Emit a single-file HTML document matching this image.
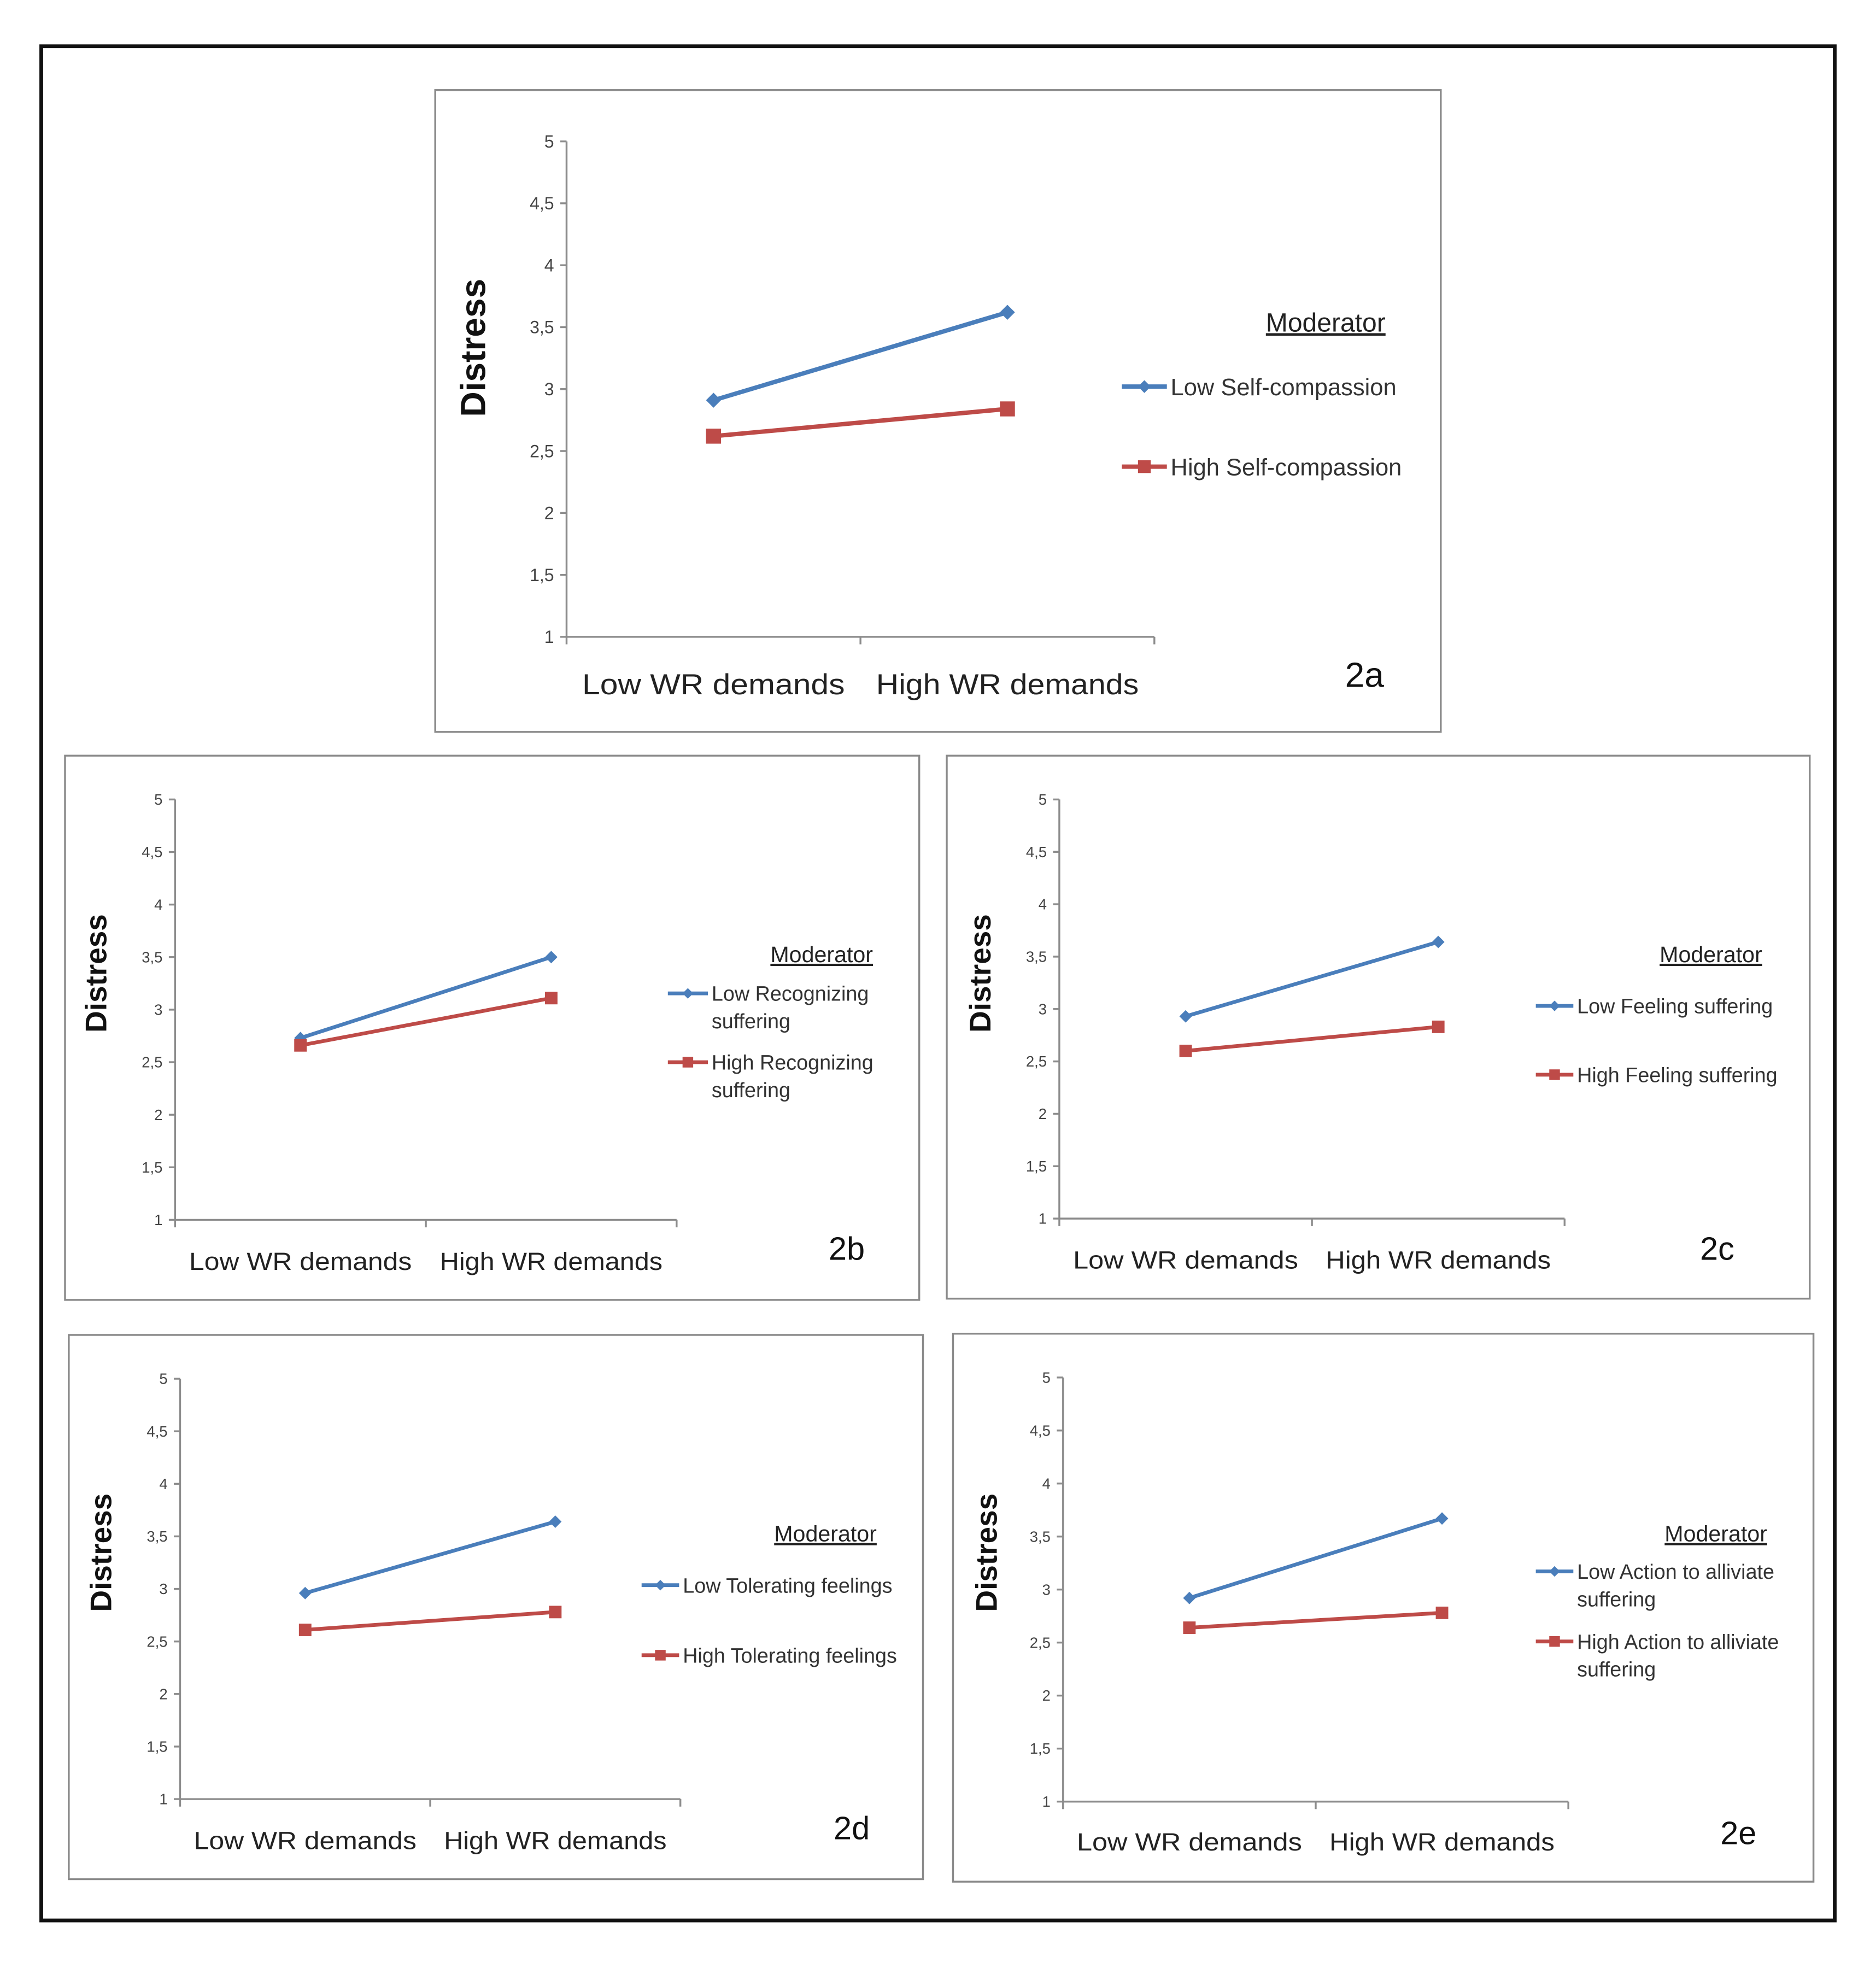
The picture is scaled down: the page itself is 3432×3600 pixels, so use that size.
<!DOCTYPE html>
<html><head><meta charset="utf-8"><style>
html,body{margin:0;padding:0;background:#fff}
svg{display:block}
text{font-family:"Liberation Sans",sans-serif}
</style></head><body>
<svg id="fig" width="3432" height="3600" viewBox="0 0 1500 1573" preserveAspectRatio="none" xmlns="http://www.w3.org/2000/svg">
<rect x="33" y="37" width="1434" height="1498" fill="#fff" stroke="#111" stroke-width="3"/>
</svg>
<script>
const categories = ["Low WR demands", "High WR demands"];
const yTicks = [1, 1.5, 2, 2.5, 3, 3.5, 4, 4.5, 5];
const yTickLabels = ["1","1,5","2","2,5","3","3,5","4","4,5","5"];
const lowA = [2.91, 3.62];
const highA = [2.62, 2.84];
const lowB = [2.73, 3.5];
const highB = [2.66, 3.11];
const lowC = [2.93, 3.64];
const highC = [2.6, 2.83];
const lowD = [2.96, 3.64];
const highD = [2.61, 2.78];
const lowE = [2.92, 3.67];
const highE = [2.64, 2.78];
const legendA = [["Low Self-compassion"], ["High Self-compassion"]];
const legendB = [["Low Recognizing", "suffering"], ["High Recognizing", "suffering"]];
const legendC = [["Low Feeling suffering"], ["High Feeling suffering"]];
const legendD = [["Low Tolerating feelings"], ["High Tolerating feelings"]];
const legendE = [["Low Action to alliviate", "suffering"], ["High Action to alliviate", "suffering"]];

const NS = "http://www.w3.org/2000/svg";
const svg = document.getElementById("fig");
function mk(tag, attrs, parent, txt) {
  const e = document.createElementNS(NS, tag);
  for (const k in attrs) e.setAttribute(k, attrs[k]);
  if (txt !== undefined) e.textContent = txt;
  (parent || svg).appendChild(e);
  return e;
}
const BLUE = "#4a7ebb", RED = "#be4b48";

function panel(p) {
  const g = mk("g", {});
  
  
  const box = mk("rect", {x: p.box[0], y: p.box[1], width: p.box[2] - p.box[0], height: p.box[3] - p.box[1], fill: "#fff", stroke: "#8a8a8a", "stroke-width": 1.5}, g);
  
  
  const yS = v => p.y1 + (v - 1) * (p.y5 - p.y1) / 4;
  const xS = i => p.x0 + (p.x1 - p.x0) * (2 * i + 1) / (2 * categories.length);
  const ya = mk("line", {x1: p.x0, x2: p.x0, y1: p.y1, y2: p.y5, stroke: "#8c8c8c", "stroke-width": 1.5}, g);
  
  
  const xa = mk("line", {x1: p.x0, x2: p.x1, y1: p.y1, y2: p.y1, stroke: "#8c8c8c", "stroke-width": 1.5}, g);
  
  
  for (let i = 0; i <= categories.length; i++) {
    const x = p.x0 + (p.x1 - p.x0) * i / categories.length;
    mk("line", {x1: x, x2: x, y1: p.y1, y2: p.y1 + 6, stroke: "#8c8c8c", "stroke-width": 1.5}, g);
  }
  yTicks.forEach((v, i) => {
    const y = yS(v);
    mk("line", {x1: p.x0 - 5, x2: p.x0, y1: y, y2: y, stroke: "#8c8c8c", "stroke-width": 1.5}, g);
    const t = mk("text", {x: p.x0 - 10, y: y + p.tf * 0.35, "font-size": p.tf, "text-anchor": "end", fill: "#444"}, g, yTickLabels[i]);
    
    
  });
  categories.forEach((c, i) => {
    const t = mk("text", {x: xS(i), y: p.catY, "font-size": p.cf, "text-anchor": "middle", fill: "#222", textLength: p.catW, lengthAdjust: "spacingAndGlyphs"}, g, c);
    
    
  });
  const yt = mk("text", {x: 0, y: 0, "font-size": p.df, "font-weight": "bold", "text-anchor": "middle", fill: "#111", transform: `translate(${p.dx},${p.dy}) rotate(-90)`}, g, "Distress");
  
  
  [[p.low, BLUE, "low"], [p.high, RED, "high"]].forEach(([vals, col, nm]) => {
    const pts = vals.map((v, i) => xS(i) + "," + yS(v)).join(" ");
    const l = mk("polyline", {points: pts, fill: "none", stroke: col, "stroke-width": p.lw}, g);
    
    
    vals.forEach((v, i) => {
      const x = xS(i), y = yS(v), s = p.ms;
      let m;
      if (nm === "low") m = mk("polygon", {points: `${x},${y - s} ${x + s},${y} ${x},${y + s} ${x - s},${y}`, fill: col}, g);
      else m = mk("rect", {x: x - s, y: y - s, width: 2 * s, height: 2 * s, fill: col}, g);
      
      
    });
  });
  const mt = mk("text", {x: p.modX, y: p.modY, "font-size": p.mf, "text-anchor": "middle", fill: "#222", "text-decoration": "underline"}, g, "Moderator");
  
  
  [[p.leg[0], BLUE, p.legY[0], "low"], [p.leg[1], RED, p.legY[1], "high"]].forEach(([lines, col, y, nm]) => {
    const lg = mk("g", {}, g);
    
    
    mk("line", {x1: p.legX[0], x2: p.legX[1], y1: y, y2: y, stroke: col, "stroke-width": p.lw}, lg);
    const cx = (p.legX[0] + p.legX[1]) / 2, s = p.ms * 0.85;
    if (nm === "low") mk("polygon", {points: `${cx},${y - s} ${cx + s},${y} ${cx},${y + s} ${cx - s},${y}`, fill: col}, lg);
    else mk("rect", {x: cx - s, y: y - s, width: 2 * s, height: 2 * s, fill: col}, lg);
    lines.forEach((t, k) => mk("text", {x: p.legX[1] + 3, y: y + p.lf * 0.36 + k * p.lineH, "font-size": p.lf, fill: "#333"}, lg, t));
  });
  const lab = mk("text", {x: p.labX, y: p.labY, "font-size": p.labF, "text-anchor": "middle", fill: "#111"}, g, p.id);
  
  
}

panel({id: "2a", box: [348, 72, 1152, 585], x0: 453, x1: 923, y1: 509, y5: 113, low: lowA, high: highA,
  tf: 14, cf: 23, catW: 210, catY: 555, df: 28, dx: 388, dy: 278, lw: 3.5, ms: 6,
  modX: 1060, modY: 265, mf: 21, leg: legendA, legY: [309, 373], legX: [897, 933], lf: 19, lineH: 22,
  labX: 1091, labY: 549, labF: 28});
panel({id: "2b", box: [52, 604, 735, 1039], x0: 140, x1: 541, y1: 975, y5: 639, low: lowB, high: highB,
  tf: 12, cf: 20, catW: 178, catY: 1015, df: 24, dx: 85, dy: 778, lw: 3, ms: 5,
  modX: 657, modY: 769, mf: 18, leg: legendB, legY: [794, 849], legX: [534, 566], lf: 16.5, lineH: 22,
  labX: 677, labY: 1007, labF: 26});
panel({id: "2c", box: [757, 604, 1447, 1038], x0: 847, x1: 1251, y1: 974, y5: 639, low: lowC, high: highC,
  tf: 12, cf: 20, catW: 180, catY: 1014, df: 24, dx: 792, dy: 778, lw: 3, ms: 5,
  modX: 1368, modY: 769, mf: 18, leg: legendC, legY: [804, 859], legX: [1228, 1258], lf: 16.5, lineH: 22,
  labX: 1373, labY: 1007, labF: 26});
panel({id: "2d", box: [55, 1067, 738, 1502], x0: 144, x1: 544, y1: 1438, y5: 1102, low: lowD, high: highD,
  tf: 12, cf: 20, catW: 178, catY: 1478, df: 24, dx: 89, dy: 1241, lw: 3, ms: 5,
  modX: 660, modY: 1232, mf: 18, leg: legendD, legY: [1267, 1323], legX: [513, 543], lf: 16.5, lineH: 22,
  labX: 681, labY: 1470, labF: 26});
panel({id: "2e", box: [762, 1066, 1450, 1504], x0: 850, x1: 1254, y1: 1440, y5: 1101, low: lowE, high: highE,
  tf: 12, cf: 20, catW: 180, catY: 1479, df: 24, dx: 797, dy: 1241, lw: 3, ms: 5,
  modX: 1372, modY: 1232, mf: 18, leg: legendE, legY: [1256, 1312], legX: [1228, 1258], lf: 16.5, lineH: 22,
  labX: 1390, labY: 1474, labF: 26});
</script>
</body></html>
